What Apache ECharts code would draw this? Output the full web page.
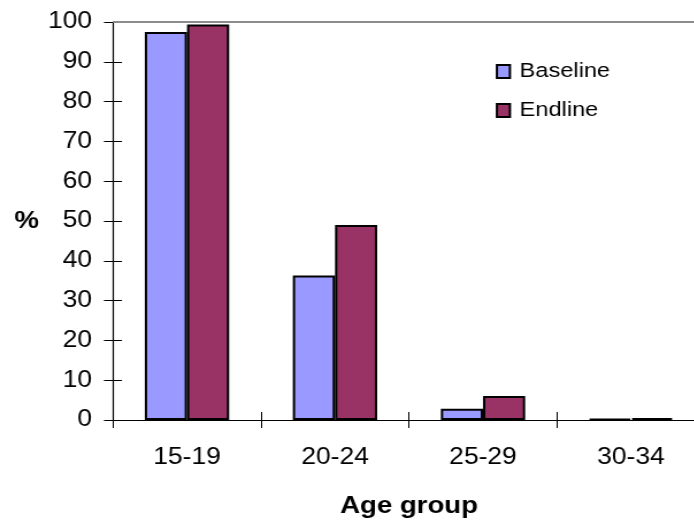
<!DOCTYPE html>
<html>
<head>
<meta charset="utf-8">
<script src="https://cdn.jsdelivr.net/npm/echarts@6/dist/echarts.min.js"></script>
<style>
  html, body { margin: 0; padding: 0; background: #fff; overflow: hidden; }
  #frame { width: 694px; height: 525px; overflow: hidden; position: relative; }
  /* the chart is drawn slightly narrow and widened horizontally */
  #chart { position: absolute; left: 0; top: 0; height: 525px; transform-origin: 0 0; }
</style>
</head>
<body>
<div id="frame"><div id="chart"></div></div>
<script>
// Share of each age group (%), baseline vs endline survey
const ageGroups = ['15-19', '20-24', '25-29', '30-34'];
const baseline = [97.5, 36.3, 2.8, 0.3];
const endline = [99.4, 49.0, 6.0, 0.5];
const yTicks = { min: 0, max: 100, interval: 10 };

const SX = 1.15;                 // horizontal stretch of the drawing
const px = v => v / SX;          // screen px -> chart units (horizontal)
const chartWidth = px(730);
const el = document.getElementById('chart');
el.style.width = chartWidth + 'px';
el.style.transform = 'scaleX(' + SX + ')';

const font = '"Liberation Sans", Arial, sans-serif';
const chart = echarts.init(el);

const plotLeft = px(113);
const plotWidth = px(592);

chart.setOption({
  animation: false,
  backgroundColor: '#ffffff',
  textStyle: { fontFamily: font, color: '#000' },
  grid: {
    left: plotLeft,
    top: 22,
    width: plotWidth,
    bottom: 105,
    outerBoundsMode: 'none',
    containLabel: false
  },
  legend: {
    orient: 'vertical',
    left: px(490),
    top: 56,
    itemWidth: px(13),
    itemHeight: 13,
    itemGap: 18,
    icon: 'rect',
    textStyle: {
      fontFamily: font, fontSize: 20.5, color: '#000',
      lineHeight: 20, padding: [0, 0, 0, px(4)]
    },
    data: ['Baseline', 'Endline']
  },
  xAxis: [
    {
      type: 'category',
      data: ageGroups,
      name: 'Age group',
      nameLocation: 'middle',
      nameGap: 86,
      nameTextStyle: { fontFamily: font, fontSize: 24, fontWeight: 'bold', color: '#000', verticalAlign: 'middle' },
      axisLine: { lineStyle: { color: '#000', width: 1.2 } },
      axisTick: { show: true, length: 8, lineStyle: { color: '#000', width: 1 } },
      axisLabel: { fontFamily: font, fontSize: 23, color: '#000', margin: 26 }
    },
    {
      type: 'category',
      data: ageGroups,
      position: 'bottom',
      axisLine: { show: false },
      axisTick: { show: true, inside: true, length: 8, lineStyle: { color: '#000', width: 1 } },
      axisLabel: { show: false }
    }
  ],
  yAxis: [
    {
      type: 'value',
      min: yTicks.min,
      max: yTicks.max,
      interval: yTicks.interval,
      name: '%',
      nameLocation: 'middle',
      nameRotate: 0,
      nameGap: px(74),
      nameTextStyle: { fontFamily: font, fontSize: 24, fontWeight: 'bold', color: '#000' },
      axisLine: { show: true, lineStyle: { color: '#000', width: 1.2 } },
      axisTick: { show: true, length: px(9), lineStyle: { color: '#000', width: 1 } },
      axisLabel: { fontFamily: font, fontSize: 23, color: '#000', margin: px(21) },
      splitLine: { show: false }
    },
    {
      type: 'value',
      min: yTicks.min,
      max: yTicks.max,
      interval: yTicks.interval,
      position: 'left',
      axisLine: { show: false },
      axisTick: { show: true, inside: true, length: px(9), lineStyle: { color: '#000', width: 1 } },
      axisLabel: { show: false },
      splitLine: { show: false }
    }
  ],
  series: [
    {
      name: 'Baseline',
      type: 'bar',
      data: baseline,
      barGap: '0%',
      barCategoryGap: '43%',
      itemStyle: { color: '#9999FF', borderColor: '#000', borderWidth: 2 },
      markLine: {
        silent: true,
        symbol: 'none',
        label: { show: false },
        lineStyle: { color: '#8c8c8c', width: 2, type: 'solid' },
        data: [{ yAxis: 100 }]
      }
    },
    {
      name: 'Endline',
      type: 'bar',
      data: endline,
      barGap: '0%',
      barCategoryGap: '43%',
      itemStyle: { color: '#993366', borderColor: '#000', borderWidth: 2 }
    }
  ]
});
</script>
</body>
</html>
